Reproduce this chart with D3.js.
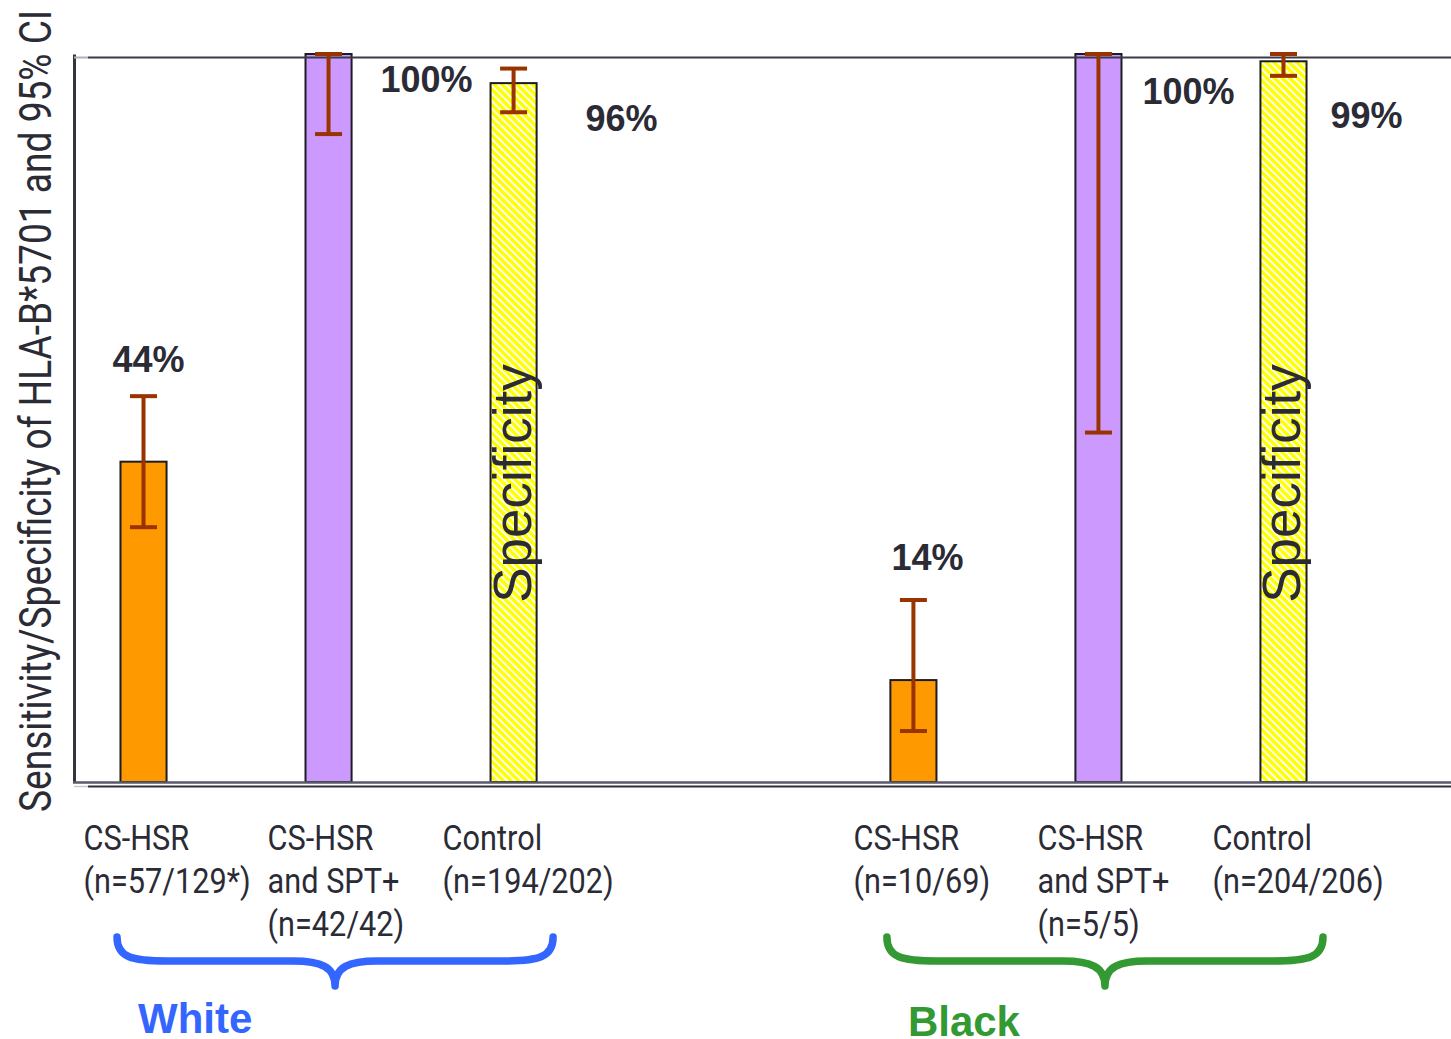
<!DOCTYPE html>
<html>
<head>
<meta charset="utf-8">
<script src="https://cdn.jsdelivr.net/npm/d3@7"></script>
<style>
  html, body { margin: 0; padding: 0; background: #ffffff; }
  svg { display: block; }
</style>
</head>
<body>
<div id="chart"></div>
<script>
// Groups and categories
const groups = ["White", "Black"];
const categories = ["CS-HSR", "CS-HSR and SPT+", "Control"];

// Category captions (one line per entry)
const whiteCaptions = [["CS-HSR", "(n=57/129*)"], ["CS-HSR", "and SPT+", "(n=42/42)"], ["Control", "(n=194/202)"]];
const blackCaptions = [["CS-HSR", "(n=10/69)"], ["CS-HSR", "and SPT+", "(n=5/5)"], ["Control", "(n=204/206)"]];

// Point estimates (%) and 95% CI bounds (%)
const whiteValues = [44, 100, 96];
const blackValues = [14, 100, 99];
const whiteLow = [35, 89, 92];
const whiteHigh = [53, 100, 98];
const blackLow = [7, 48, 97];
const blackHigh = [25, 100, 100];

// Measure type per category
const measures = ["Sensitivity", "Sensitivity", "Specificity"];

const yTitle = "Sensitivity/Specificity of HLA-B*5701 and 95% CI";

const rows = [];
groups.forEach((g, gi) => {
  const vals = gi === 0 ? whiteValues : blackValues;
  const lo = gi === 0 ? whiteLow : blackLow;
  const hi = gi === 0 ? whiteHigh : blackHigh;
  const caps = gi === 0 ? whiteCaptions : blackCaptions;
  categories.forEach((c, ci) => {
    rows.push({ group: g, gi, cat: c, ci, value: vals[ci], low: lo[ci], high: hi[ci],
                caption: caps[ci], measure: measures[ci] });
  });
});

const W = 1451, H = 1039;
const svg = d3.select("#chart").append("svg").attr("width", W).attr("height", H);

// Hatched fill used for specificity bars
const defs = svg.append("defs");
const pat = defs.append("pattern")
  .attr("id", "hatch").attr("patternUnits", "userSpaceOnUse")
  .attr("width", 5.4).attr("height", 5.4)
  .attr("patternTransform", "rotate(-45)");
pat.append("rect").attr("width", 5.4).attr("height", 5.4).attr("fill", "#ffff00");
pat.append("rect").attr("x", 0).attr("width", 1.9).attr("height", 5.4).attr("fill", "#ffffff");

// Scales
const y = d3.scaleLinear().domain([0, 100]).range([782, 54]);
const x0 = d3.scaleBand().domain(groups).range([51, 1376]).paddingInner(0.279).paddingOuter(0);
const x1 = d3.scaleBand().domain(categories).range([0, x0.bandwidth()])
  .paddingInner(0.751).paddingOuter(0.3755);

const barLeft = d => x0(d.group) + x1(d.cat);
const barMid = d => barLeft(d) + x1.bandwidth() / 2;

const fillFor = { "CS-HSR": "#ff9900", "CS-HSR and SPT+": "#cc99ff", "Control": "url(#hatch)" };

const ink = "#2b2b36";

// Frame lines: top rule, left axis, floor lines
const axisG = svg.append("g");
axisG.append("line").attr("x1", 74).attr("x2", 88).attr("y1", y(100) + 3.5).attr("y2", y(100) + 3.5)
  .attr("stroke", "#b0b0b8").attr("stroke-width", 2);
axisG.append("line").attr("x1", 88).attr("x2", W).attr("y1", y(100) + 3.5).attr("y2", y(100) + 3.5)
  .attr("stroke", "#3a3a46").attr("stroke-width", 2);

// Bars
svg.append("g").selectAll("rect").data(rows).join("rect")
  .attr("x", barLeft)
  .attr("y", d => y(d.value))
  .attr("width", x1.bandwidth())
  .attr("height", d => y(0) - y(d.value))
  .attr("fill", d => fillFor[d.cat])
  .attr("stroke", "#1c1c22")
  .attr("stroke-width", 2);

// Axis lines drawn over bar bases
const yAxis = d3.axisLeft(y).tickValues([]).tickSizeOuter(0);
const yAxisG = svg.append("g").attr("transform", "translate(74,0)").call(yAxis);
yAxisG.select(".domain").attr("stroke", "#34343f").attr("stroke-width", 3);
axisG.raise();

svg.append("line").attr("x1", 73).attr("x2", W).attr("y1", y(0) + 0.5).attr("y2", y(0) + 0.5)
  .attr("stroke", "#5a5a6a").attr("stroke-width", 2.5);
svg.append("line").attr("x1", 74).attr("x2", 88).attr("y1", y(0) + 4.5).attr("y2", y(0) + 4.5)
  .attr("stroke", "#c8c8d0").attr("stroke-width", 1.5);
svg.append("line").attr("x1", 88).attr("x2", W).attr("y1", y(0) + 4.5).attr("y2", y(0) + 4.5)
  .attr("stroke", "#2e2e3a").attr("stroke-width", 2);

// Error bars (95% CI)
const errColor = "#993300";
const capW = 27;
const eg = svg.append("g").selectAll("g").data(rows).join("g");
eg.append("line")
  .attr("x1", barMid).attr("x2", barMid)
  .attr("y1", d => y(d.high)).attr("y2", d => y(d.low))
  .attr("stroke", errColor).attr("stroke-width", 4);
eg.append("line")
  .attr("x1", d => barMid(d) - capW / 2).attr("x2", d => barMid(d) + capW / 2)
  .attr("y1", d => y(d.high)).attr("y2", d => y(d.high))
  .attr("stroke", errColor).attr("stroke-width", 4);
eg.append("line")
  .attr("x1", d => barMid(d) - capW / 2).attr("x2", d => barMid(d) + capW / 2)
  .attr("y1", d => y(d.low)).attr("y2", d => y(d.low))
  .attr("stroke", errColor).attr("stroke-width", 4);

// "Specificity" written inside the hatched bars
svg.append("g").selectAll("text").data(rows.filter(d => d.measure === "Specificity")).join("text")
  .attr("transform", d => `translate(${barMid(d) + 17},${y(41)}) rotate(-90)`)
  .attr("text-anchor", "middle")
  .attr("font-family", "'Liberation Sans', Arial, sans-serif")
  .attr("font-size", 53)
  .attr("fill", ink)
  .text(d => d.measure);

// Percentage labels, nudged clear of bars and whiskers
const labelNudge = [[-31, -90], [52, 38], [72, 48], [-22, -110], [44, 50], [47, 67]];
svg.append("g").selectAll("text").data(rows).join("text")
  .attr("x", (d, i) => barMid(d) + labelNudge[i][0])
  .attr("y", (d, i) => y(d.value) + labelNudge[i][1])
  .attr("font-family", "'Liberation Sans', Arial, sans-serif")
  .attr("font-weight", "bold")
  .attr("font-size", 36)
  .attr("fill", ink)
  .text(d => d.value + "%");

// Category captions under the floor
const captionShift = [-60, -61, -71];
const capG = svg.append("g").selectAll("text").data(rows).join("text")
  .attr("transform", d => `translate(${barMid(d) + captionShift[d.ci]},850) scale(0.865,1)`)
  .attr("font-family", "Roboto, 'Noto Sans', sans-serif")
  .attr("font-size", 35.5)
  .attr("fill", ink);
capG.selectAll("tspan").data(d => d.caption).join("tspan")
  .attr("x", 0).attr("dy", (t, i) => i === 0 ? 0 : 43)
  .text(t => t);

// Group braces and names
const braceColor = { White: "#3366ff", Black: "#339933" };
function bracePath(a, b, top, mid, tip) {
  const c = (a + b) / 2;
  return `M${a},${top} C${a},${mid - 4} ${a + 14},${mid} ${a + 50},${mid}` +
         ` L${c - 42},${mid} C${c - 14},${mid} ${c},${mid + 6} ${c},${tip}` +
         ` C${c},${mid + 6} ${c + 14},${mid} ${c + 42},${mid}` +
         ` L${b - 50},${mid} C${b - 14},${mid} ${b},${mid - 4} ${b},${top}`;
}
const gg = svg.append("g").selectAll("g").data(groups).join("g");
gg.append("path")
  .attr("d", g => bracePath(x0(g) + 66, x0(g) + x0.bandwidth() - 53, 937, 961, 986))
  .attr("fill", "none")
  .attr("stroke", g => braceColor[g])
  .attr("stroke-width", 7.5)
  .attr("stroke-linecap", "round")
  .attr("stroke-linejoin", "round");
gg.append("text")
  .attr("x", g => x0(g) + 87)
  .attr("y", (g, i) => i === 0 ? 1033 : 1036)
  .attr("font-family", "'Liberation Sans', Arial, sans-serif")
  .attr("font-weight", "bold")
  .attr("font-size", 42)
  .attr("fill", g => braceColor[g])
  .text(g => g);

// Y axis title
svg.append("text")
  .attr("transform", `translate(51,${411}) rotate(-90)`)
  .attr("text-anchor", "middle")
  .attr("font-family", "Roboto, 'Noto Sans', sans-serif")
  .attr("font-size", 45)
  .attr("textLength", 802)
  .attr("lengthAdjust", "spacingAndGlyphs")
  .attr("fill", ink)
  .text(yTitle);
</script>
</body>
</html>
